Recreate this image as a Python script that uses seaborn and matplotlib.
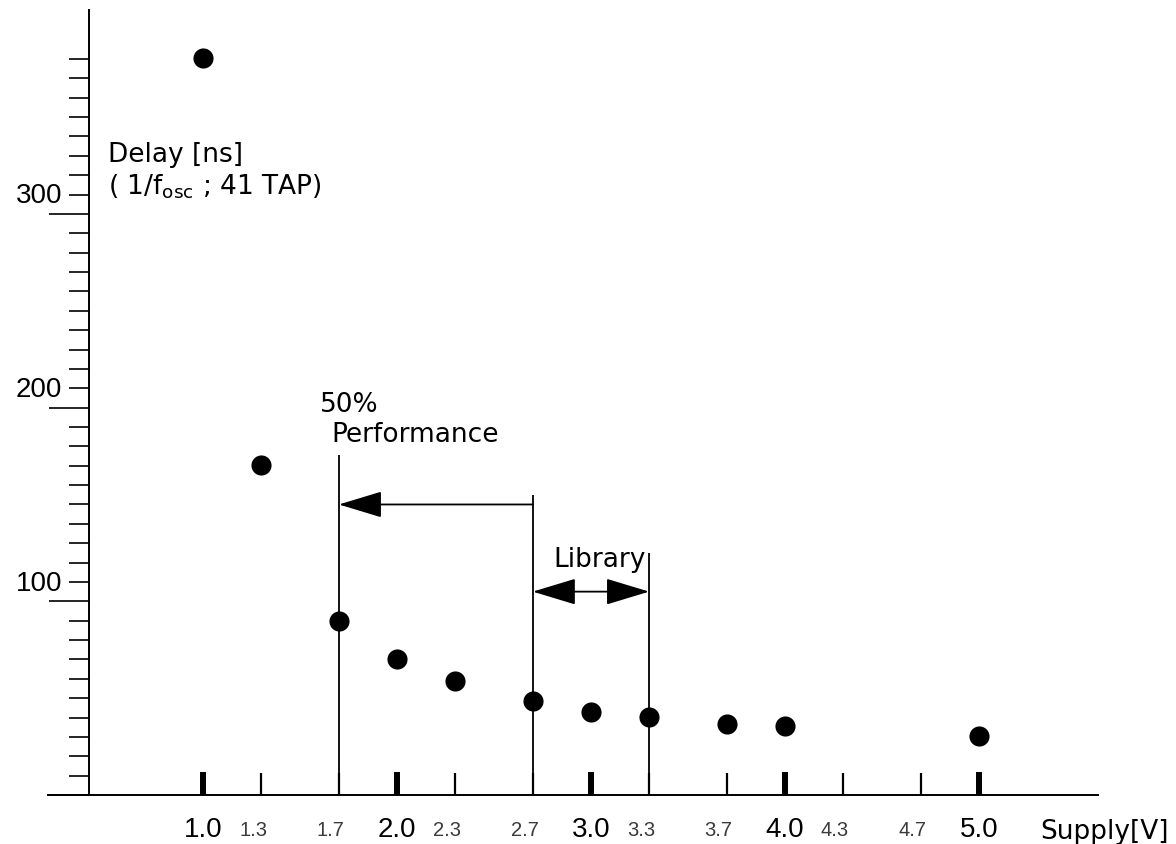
import matplotlib
matplotlib.use("Agg")
import matplotlib.pyplot as plt
from matplotlib.transforms import ScaledTranslation
import pandas as pd
import seaborn as sns

# Ring-oscillator delay versus supply voltage
supply = [1.0, 1.3, 1.7, 2.0, 2.3, 2.7, 3.0, 3.3, 3.7, 4.0, 5.0]
delay_ns = [380.5, 170.4, 89.8, 70.2, 59.0, 48.6, 42.8, 40.4, 36.5, 35.8, 30.6]

# Axis ticks and labels
x_major = [1.0, 2.0, 3.0, 4.0, 5.0]
x_major_labels = ["1.0", "2.0", "3.0", "4.0", "5.0"]
x_minor = [1.3, 1.7, 2.3, 2.7, 3.3, 3.7, 4.3, 4.7]
x_minor_labels = ["1.3", "1.7", "2.3", "2.7", "3.3", "3.7", "4.3", "4.7"]
y_major = [0, 100, 200, 300]
y_major_labels = ["", "100", "200", "300"]
y_minor = [v for v in range(10, 390, 10) if v % 100]

# Reference voltages marked with vertical lines and their heights
ref_volts = [1.7, 2.7, 3.3]
ref_heights = [175.5, 155.0, 125.0]

# Range arrows: (start V, end V, height)
perf_arrow = (2.7, 1.7, 150.0)
lib_arrow = (2.7, 3.3, 105.0)

df = pd.DataFrame({"supply": supply, "delay": delay_ns})

sns.set_theme(style="white")
plt.rcParams["font.family"] = ["Liberation Sans", "DejaVu Sans"]
plt.rcParams["mathtext.fontset"] = "custom"
plt.rcParams["mathtext.rm"] = "DejaVu Sans"

fig = plt.figure(figsize=(11.76, 8.44), dpi=100)
ax = fig.add_axes([48 / 1176, 49 / 844, 1050 / 1176, 785 / 844])

sns.scatterplot(data=df, x="supply", y="delay", color="black", s=210,
                linewidth=0, ax=ax, zorder=5, legend=False)

ax.vlines(ref_volts, 0, ref_heights, color="black", linewidth=1.3)

ax.annotate("", xy=(perf_arrow[1], perf_arrow[2]), xytext=(perf_arrow[0], perf_arrow[2]),
            arrowprops=dict(arrowstyle="-|>,head_length=2.74,head_width=0.83",
                            color="black", lw=1.3, shrinkA=0, shrinkB=0,
                            mutation_scale=10))
ax.annotate("", xy=(lib_arrow[1], lib_arrow[2]), xytext=(lib_arrow[0], lib_arrow[2]),
            arrowprops=dict(arrowstyle="<|-|>,head_length=2.74,head_width=0.83",
                            color="black", lw=1.3, shrinkA=0, shrinkB=0,
                            mutation_scale=10))

ax.set_xlim(0.2, 5.615)
ax.set_ylim(0, 405.3)
ax.set_xlabel("")
ax.set_ylabel("")

for side in ("top", "right"):
    ax.spines[side].set_visible(False)
for side in ("left", "bottom"):
    ax.spines[side].set_color("black")
    ax.spines[side].set_linewidth(1.4)
ax.spines["left"].set_position(("data", 0.41))

ax.set_xticks(x_major, x_major_labels)
ax.set_xticks(x_minor, x_minor_labels, minor=True)
ax.tick_params(axis="x", which="major", direction="in", length=16.5, width=4.3,
               pad=16, labelsize=20, color="black", labelcolor="black", bottom=True)
ax.tick_params(axis="x", which="minor", direction="in", length=16, width=1.6,
               pad=19, labelsize=14.5, color="black", labelcolor="#3a3a3a",
               bottom=True)

# small voltage labels sit slightly left of their ticks
shift_left = ScaledTranslation(-0.08, 0, fig.dpi_scale_trans)
for lbl in ax.xaxis.get_minorticklabels():
    lbl.set_transform(lbl.get_transform() + shift_left)

ax.set_yticks(y_major, [""] * len(y_major))
ax.set_yticks(y_minor, minor=True)
ax.tick_params(axis="y", which="major", direction="out", length=28.8, width=1.2,
               color="black", left=True)
ax.tick_params(axis="y", which="minor", direction="out", length=14.4, width=1.2,
               color="black", left=True)

for v, lab in zip(y_major, y_major_labels):
    if lab:
        ax.text(0.272, v + 5.5, lab, ha="right", va="baseline", fontsize=20,
                color="black", clip_on=False)

word = dict(fontsize=19, va="baseline", color="black", family="DejaVu Sans")
ax.text(0.509, 326.8, "Delay [ns]", **word)
ax.text(0.509, 309.8, "( 1/f$_{\\mathregular{osc}}$ ; 41 TAP)", **word)
ax.text(1.603, 197.9, "50%", **word)
ax.text(1.66, 182.4, "Performance", **word)
ax.text(2.804, 117.9, "Library", **word)
ax.text(5.316, -22.7, "Supply[V]", clip_on=False, **word)

fig.savefig("out.png", dpi=100, facecolor="white")
